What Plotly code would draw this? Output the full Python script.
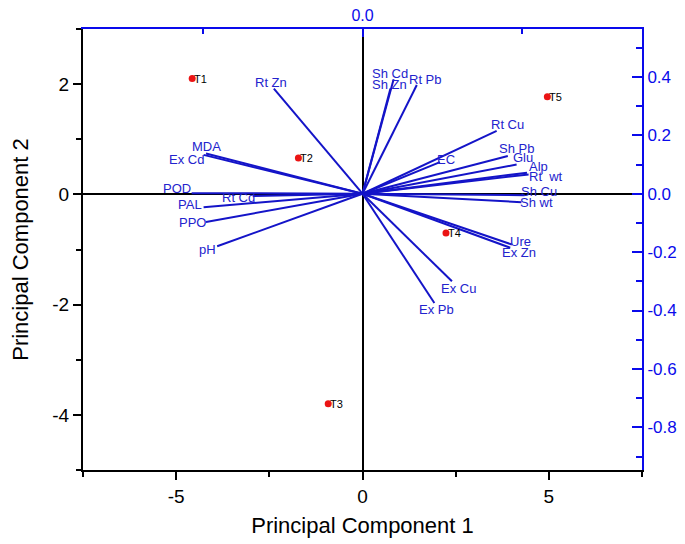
import plotly.graph_objects as go

# ---- data ----
treatments = ["T1", "T2", "T3", "T4", "T5"]
pc1_scores = [-4.57, -1.72, -0.92, 2.24, 4.96]
pc2_scores = [2.10, 0.66, -3.80, -0.70, 1.77]

variables = ["Sh Cd", "Sh Zn", "Rt Pb", "Rt Cu", "EC", "Sh Pb", "Glu", "Alp", "Rt  wt",
             "Sh Cu", "Sh wt", "Ure", "Ex Zn", "Ex Cu", "Ex Pb", "Rt Zn", "MDA", "Ex Cd",
             "POD", "Rt Cd", "PAL", "PPO", "pH"]
pc1_loadings = [0.039, 0.035, 0.068, 0.168, 0.097, 0.182, 0.193, 0.206, 0.208,
                0.203, 0.199, 0.187, 0.185, 0.112, 0.090, -0.111, -0.196, -0.199,
                -0.214, -0.137, -0.199, -0.196, -0.182]
pc2_loadings = [0.392, 0.360, 0.372, 0.215, 0.108, 0.129, 0.100, 0.072, 0.066,
                -0.005, -0.029, -0.174, -0.185, -0.300, -0.374, 0.360, 0.138, 0.133,
                0.002, -0.008, -0.046, -0.097, -0.180]

x_ticks = [-5, 0, 5]
x_ticktext = ["-5", "0", "5"]
y_ticks = [-4, -2, 0, 2]
y_ticktext = ["-4", "-2", "0", "2"]
y2_ticks = [0.4, 0.2, 0.0, -0.2, -0.4, -0.6, -0.8]
y2_ticktext = ["0.4", "0.2", "0.0", "-0.2", "-0.4", "-0.6", "-0.8"]

# ---- label offsets (pixels, styling only) ----
label_offsets = {
    "Sh Cd": (-3.5, 6), "Sh Zn": (-0.7, 4.3), "Rt Pb": (9.1, 5.3), "Rt Cu": (10.8, 6.7),
    "EC": (6.3, 2.7), "Sh Pb": (8.4, 7.4), "Glu": (6.6, 7.3), "Alp": (11.1, 6),
    "Rt  wt": (17.2, -1.7), "Sh Cu": (14, 4), "Sh wt": (15, -0.6), "Ure": (8.3, 3.3),
    "Ex Zn": (8.7, -5), "Ex Cu": (6.3, -7.6), "Ex Pb": (2, -6.7), "Rt Zn": (-2.6, 6),
    "MDA": (0.7, 7.3), "Ex Cd": (-17, -4.5), "POD": (-14.7, 5), "Rt Cd": (-14.3, -1.6),
    "PAL": (-13.5, 2.7), "PPO": (-13.3, -0.6), "pH": (-9.6, -3.3),
}

FONT = "Liberation Sans, Arial, sans-serif"
LINE_BLUE = "rgb(20,20,200)"
TEXT_BLUE = "rgb(35,35,205)"
AXIS_BLUE = "rgb(10,10,235)"

fig = go.Figure()

# loading vectors
lx, ly = [], []
for a, b in zip(pc1_loadings, pc2_loadings):
    lx += [0, a, None]
    ly += [0, b, None]
fig.add_trace(go.Scatter(x=lx, y=ly, mode="lines", xaxis="x2", yaxis="y2",
                         line=dict(color=LINE_BLUE, width=2), hoverinfo="skip",
                         showlegend=False))

# scores
fig.add_trace(go.Scatter(x=pc1_scores, y=pc2_scores, mode="markers",
                         marker=dict(color="rgb(235,20,20)", size=7),
                         showlegend=False))

annotations = []
for name, a, b in zip(variables, pc1_loadings, pc2_loadings):
    dx, dy = label_offsets[name]
    annotations.append(dict(x=a, y=b, xref="x2", yref="y2", text=name.replace("  ", "&nbsp; "),
                            showarrow=False, xanchor="center", yanchor="middle",
                            xshift=dx, yshift=dy,
                            font=dict(family=FONT, size=13, color=TEXT_BLUE)))
for name, a, b in zip(treatments, pc1_scores, pc2_scores):
    annotations.append(dict(x=a, y=b, xref="x", yref="y", text=name, showarrow=False,
                            xanchor="left", yanchor="middle", xshift=0, yshift=0,
                            font=dict(family=FONT, size=11, color="black")))

fig.update_layout(
    width=677, height=536,
    margin=dict(l=75, r=43, t=21, b=74),
    plot_bgcolor="white", paper_bgcolor="white",
    font=dict(family=FONT),
    annotations=annotations,
    xaxis=dict(range=[-7.5, 7.5], tickvals=x_ticks, ticktext=x_ticktext, ticks="outside",
               ticklen=8, tickwidth=1.5, tickcolor="black", automargin=False,
               minor=dict(dtick=2.5, ticks="outside", ticklen=5, tickcolor="black", tickwidth=1.5),
               showline=True, linecolor="black", linewidth=2,
               zeroline=True, zerolinecolor="black", zerolinewidth=2,
               showgrid=False, tickfont=dict(size=19, color="black"),
               title=dict(text="Principal Component 1", font=dict(size=22, color="black"),
                          standoff=12)),
    yaxis=dict(range=[-5, 3], tickvals=y_ticks, ticktext=y_ticktext, ticks="outside",
               ticklen=8, tickwidth=1.5, tickcolor="black", automargin=False,
               minor=dict(dtick=1, ticks="outside", ticklen=5, tickcolor="black", tickwidth=1.5),
               showline=True, linecolor="black", linewidth=2,
               zeroline=True, zerolinecolor="black", zerolinewidth=2,
               showgrid=False, tickfont=dict(size=19, color="black"),
               title=dict(text="Principal Component 2", font=dict(size=22, color="black"),
                          standoff=18)),
    xaxis2=dict(overlaying="x", side="top", anchor="y", range=[-0.35, 0.35],
                tickvals=[0], ticktext=["0.0"], ticks="inside", ticklen=8,
                tickwidth=1.5, tickcolor=AXIS_BLUE, automargin=False,
                minor=dict(tickvals=[-0.2, 0.2], ticks="inside", ticklen=5,
                           tickcolor=AXIS_BLUE, tickwidth=1.5),
                showline=True, linecolor=AXIS_BLUE, linewidth=2,
                zeroline=False, showgrid=False,
                tickfont=dict(size=16, color=AXIS_BLUE)),
    yaxis2=dict(overlaying="y", side="right", anchor="x", range=[-0.946, 0.564],
                tickvals=y2_ticks, ticktext=y2_ticktext, ticks="inside", ticklen=10,
                tickwidth=1.5, tickcolor=AXIS_BLUE, automargin=False,
                minor=dict(dtick=0.1, tick0=0, ticks="inside", ticklen=6,
                           tickcolor=AXIS_BLUE, tickwidth=1.5),
                showline=True, linecolor=AXIS_BLUE, linewidth=2,
                zeroline=False, showgrid=False,
                tickfont=dict(size=17, color=AXIS_BLUE)),
)

fig.write_html("out.html")
